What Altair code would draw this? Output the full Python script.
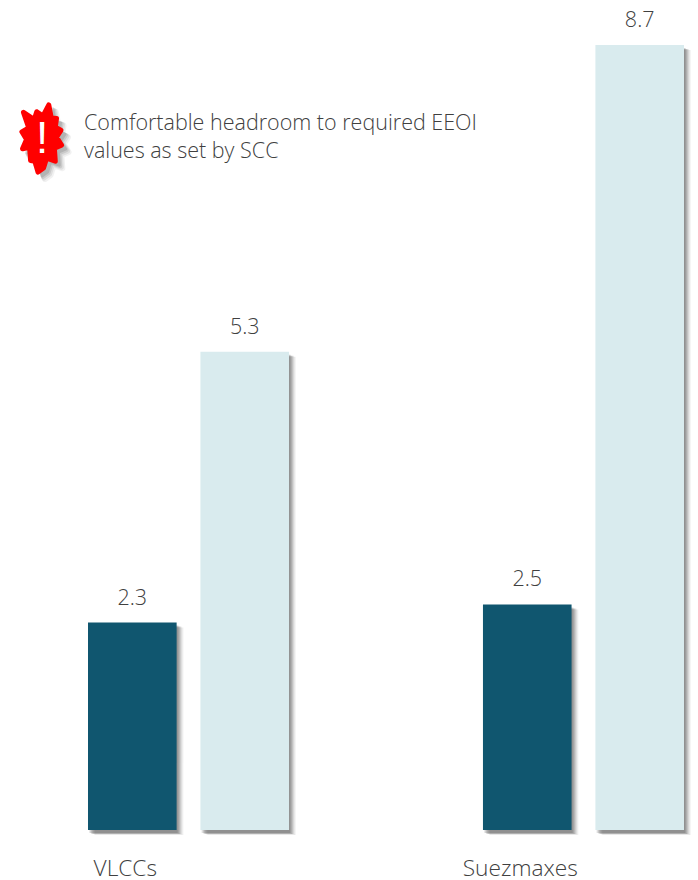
import altair as alt
import pandas as pd

# Chart values
vessel_classes = ["VLCCs", "Suezmaxes"]
series_names = ["Attained", "Required"]
vlcc_values = [2.3, 5.3]
suezmax_values = [2.5, 8.7]
note_lines = ["Comfortable headroom to required EEOI", "values as set by SCC"]

DARK = "#10566F"
LIGHT = "#D9EBEE"
TEXT = "#404040"
FONT = "Open Sans"

rows = []
for cls, vals in zip(vessel_classes, [vlcc_values, suezmax_values]):
    for name, val in zip(series_names, vals):
        rows.append({"cls": cls, "series": name, "value": val, "label": f"{val:.1f}"})
bars = pd.DataFrame(rows)


def x_channel(shift=0):
    return alt.X("cls:N", sort=vessel_classes, axis=None,
                 scale=alt.Scale(domain=vessel_classes, range=[88 + shift, 684 + shift],
                                 paddingInner=0.491, paddingOuter=0))


xoff_enc = alt.XOffset("series:N", sort=series_names,
                       scale=alt.Scale(domain=series_names, paddingInner=0.212, paddingOuter=0))
y_enc = alt.Y("value:Q", axis=None, scale=alt.Scale(domain=[0, 9.2], range=[830, 0]))

base = alt.Chart(bars).encode(x=x_channel(), xOffset=xoff_enc, y=y_enc)

# Soft drop shadow: stacked translucent copies of each bar, shifted right and down
shadow_layers = [
    alt.Chart(bars).mark_bar(color="#000000", opacity=op, yOffset=dy + 2, y2Offset=dy)
    .encode(x=x_channel(dx), xOffset=xoff_enc, y=y_enc)
    for dx, dy, op in [(7, 3, 0.04), (6, 3, 0.05), (5, 2, 0.07), (4, 2, 0.09),
                       (3, 2, 0.10), (2, 1, 0.10), (1, 1, 0.08)]
]

bar_layer = base.mark_bar().encode(
    color=alt.Color("series:N", legend=None, sort=series_names,
                    scale=alt.Scale(domain=series_names, range=[DARK, LIGHT]))
)

value_labels = base.mark_text(font=FONT, fontSize=21.5, fontWeight=300, color=TEXT,
                              baseline="alphabetic", dy=-18).encode(text="label:N")

# Category captions sit under the first bar of each group, nudged left
captions = alt.Chart(pd.DataFrame({"cls": vessel_classes, "series": series_names[0]})).mark_text(
    font=FONT, fontSize=22.7, fontWeight=300, color=TEXT, baseline="alphabetic", dx=-7
).encode(x=x_channel(), xOffset=xoff_enc, y=alt.value(876), text="cls:N")

# Warning burst drawn as a custom symbol in unit coordinates
burst = [(22, -107), (30, -65), (47, -63), (43, -35), (61, -25), (47, -3), (63, 23),
         (40, 33), (43, 75), (15, 65), (5, 97), (-13, 110), (-23, 75), (-37, 73),
         (-40, 30), (-63, 35), (-50, 5), (-65, -20), (-43, -33), (-60, -83),
         (-25, -60), (-17, -85), (-3, -75), (5, -75)]
burst_path = "M" + "L".join(f"{px / 110:.3f},{py / 110:.3f}" for px, py in burst) + "Z"
burst_size = 68 ** 2

icon_anchor = pd.DataFrame({"n": [0]})
icon_shadows = [
    alt.Chart(icon_anchor).mark_point(shape=burst_path, size=burst_size, filled=True, color="#000000",
                                      opacity=op, strokeWidth=sw, stroke="#000000", strokeJoin="round")
    .encode(x=alt.value(42 + off), y=alt.value(138 + off))
    for off, op, sw in [(7, 0.05, 6), (6, 0.07, 5), (5, 0.09, 4), (4, 0.11, 3)]
]
icon = alt.Chart(icon_anchor).mark_point(shape=burst_path, size=burst_size, filled=True, color="#FF0000",
                                         opacity=1, stroke="#FF0000", strokeWidth=5, strokeJoin="round").encode(
    x=alt.value(42), y=alt.value(138))
bang = alt.Chart(icon_anchor).mark_text(text="!", font="Liberation Sans", fontSize=44,
                                        color="#FFFFFF", baseline="alphabetic").encode(
    x=alt.value(42), y=alt.value(153))

note = alt.Chart(pd.DataFrame({"line": note_lines, "pos": [130, 158]})).mark_text(
    font=FONT, fontSize=21.5, fontWeight=300, color=TEXT, align="left", baseline="alphabetic"
).encode(x=alt.value(84), y=alt.Y("pos:Q", axis=None, scale=None), text="line:N")

chart = alt.layer(
    *shadow_layers, bar_layer, value_labels, captions, *icon_shadows, icon, bang, note
).resolve_scale(x="independent", y="independent").properties(
    width=698, height=880, padding=0, autosize=alt.AutoSizeParams(type="none"),
    view=alt.ViewBackground(stroke="#FFFFFF", fill="#FFFFFF"),
).configure_view(strokeWidth=0).configure(background="#FFFFFF")

chart.save("out.html", embed_options={"renderer": "svg", "actions": False})
